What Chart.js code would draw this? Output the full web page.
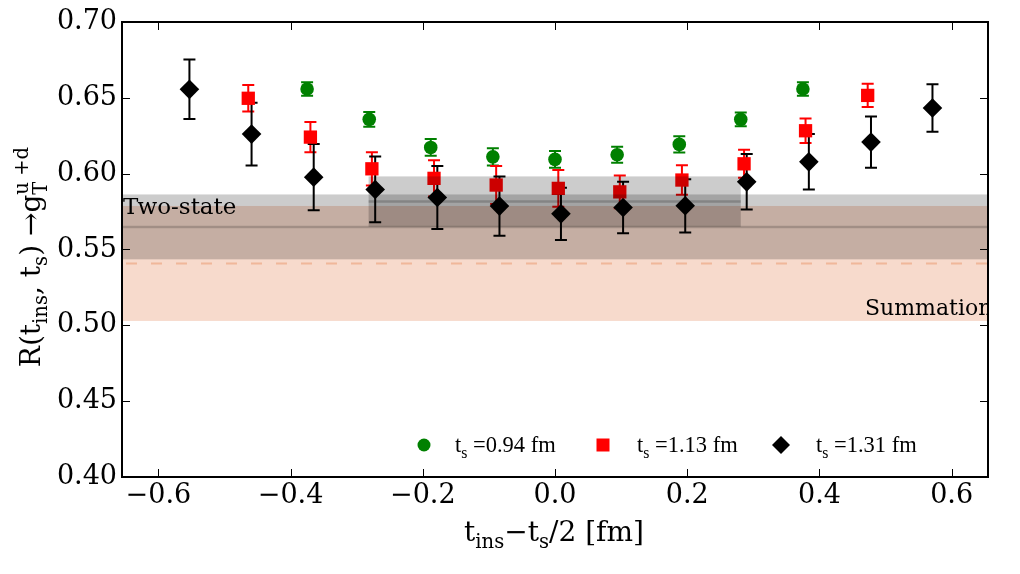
<!DOCTYPE html>
<html>
<head>
<meta charset="utf-8">
<script src="https://cdn.jsdelivr.net/npm/chart.js@4.4.0/dist/chart.umd.min.js"></script>
<style>
  html, body { margin: 0; padding: 0; background: #fff; }
  #wrap { width: 1020px; height: 574px; }
</style>
</head>
<body>
<div id="wrap"><canvas id="myChart" width="1020" height="574"></canvas></div>
<script>
// ratio R(t_ins, t_s) for three source-sink separations
const xTs094 = [-0.375, -0.281, -0.188, -0.094, 0.000, 0.094, 0.188, 0.281, 0.375];
const yTs094 = [0.6558, 0.6358, 0.6173, 0.6111, 0.6094, 0.6125, 0.6193, 0.6358, 0.6558];
const eTs094 = [0.0045, 0.0049, 0.0055, 0.0057, 0.0055, 0.0053, 0.0053, 0.0046, 0.0044];

const xTs113 = [-0.464, -0.370, -0.277, -0.183, -0.089, 0.005, 0.098, 0.192, 0.286, 0.379, 0.473];
const yTs113 = [0.6497, 0.6241, 0.6032, 0.5969, 0.5925, 0.5903, 0.5880, 0.5958, 0.6065, 0.6283, 0.6516];
const eTs113 = [0.0087, 0.0099, 0.0110, 0.0119, 0.0125, 0.0121, 0.0108, 0.0097, 0.0092, 0.0080, 0.0077];

const xTs131 = [-0.553, -0.459, -0.365, -0.272, -0.178, -0.084, 0.009, 0.103, 0.197, 0.290, 0.384, 0.478, 0.571];
const yTs131 = [0.6556, 0.6261, 0.5977, 0.5896, 0.5843, 0.5786, 0.5735, 0.5777, 0.5788, 0.5946, 0.6078, 0.6208, 0.6433];
const eTs131 = [0.0196, 0.0207, 0.0218, 0.0217, 0.0208, 0.0196, 0.0172, 0.0170, 0.0176, 0.0183, 0.0183, 0.0169, 0.0157];

// fit results: [value, error]
const twoState = [0.5649, 0.0214];
const summation = [0.5408, 0.0379];
const plateau = [0.5816, 0.0166];
const plateauRange = [-0.282, 0.281];

const xTicks = [-0.6, -0.4, -0.2, 0.0, 0.2, 0.4, 0.6];
const yTicks = [0.40, 0.45, 0.50, 0.55, 0.60, 0.65, 0.70];
const legendLabels = ['0.94', '1.13', '1.31'];

const SERIF = '"DejaVu Serif", serif';
const LSERIF = '"Liberation Serif", serif';
const errs = [eTs094, eTs113, eTs131];

function pts(xs, ys) {
    return xs.map((x, i) => ({ x: x, y: ys[i] }));
}

// draws text made of pieces: [text, kind] kind: '' normal, 'b' subscript, 'p' superscript, or {b, p} stacked
function richText(ctx, parts, x, y, size, measureOnly, family) {
    const fam = family || SERIF;
    let cx = x;
    parts.forEach(p => {
        if (typeof p[0] === 'object') {
            ctx.font = (size * 0.7) + 'px ' + fam;
            const wb = ctx.measureText(p[0].b).width;
            const wp = ctx.measureText(p[0].p).width;
            if (!measureOnly) {
                ctx.fillText(p[0].b, cx, y + size * 0.25);
                ctx.fillText(p[0].p, cx, y - size * 0.42);
            }
            cx += Math.max(wb, wp);
            return;
        }
        const k = p[1];
        const s = k ? size * 0.7 : size;
        ctx.font = s + 'px ' + fam;
        const dy = k === 'b' ? size * 0.25 : (k === 'p' ? -size * 0.42 : 0);
        if (!measureOnly) ctx.fillText(p[0], cx, y + dy);
        cx += ctx.measureText(p[0]).width;
    });
    return cx - x;
}

function clipArea(ctx, a) {
    ctx.beginPath();
    ctx.rect(a.left, a.top, a.right - a.left, a.bottom - a.top);
    ctx.clip();
}

const decor = {
    id: 'decor',
    beforeDatasetsDraw(chart) {
        const { ctx, chartArea: a } = chart;
        const xs = chart.scales.x, ys = chart.scales.y;
        ctx.save();
        clipArea(ctx, a);

        // summation band sits under the points
        const t = ys.getPixelForValue(summation[0] + summation[1]);
        const b = ys.getPixelForValue(summation[0] - summation[1]);
        ctx.fillStyle = 'rgba(233,150,110,0.35)';
        ctx.fillRect(a.left, t, a.right - a.left, b - t);
        ctx.strokeStyle = 'rgba(235,160,120,0.6)';
        ctx.lineWidth = 2;
        ctx.setLineDash([11, 14]);
        const ym = ys.getPixelForValue(summation[0]);
        ctx.beginPath(); ctx.moveTo(a.left + 4, ym); ctx.lineTo(a.right, ym); ctx.stroke();
        ctx.setLineDash([]);

        // error bars
        chart.data.datasets.forEach((ds, i) => {
            ctx.strokeStyle = ds.backgroundColor;
            ctx.lineWidth = 2;
            ds.data.forEach((d, j) => {
                const px = xs.getPixelForValue(d.x);
                const y1 = ys.getPixelForValue(d.y + errs[i][j]);
                const y2 = ys.getPixelForValue(d.y - errs[i][j]);
                ctx.beginPath();
                ctx.moveTo(px, y1); ctx.lineTo(px, y2);
                ctx.moveTo(px - 6, y1); ctx.lineTo(px + 6, y1);
                ctx.moveTo(px - 6, y2); ctx.lineTo(px + 6, y2);
                ctx.stroke();
            });
        });
        ctx.restore();
    },
    afterDatasetsDraw(chart) {
        const { ctx, chartArea: a } = chart;
        const xs = chart.scales.x, ys = chart.scales.y;
        ctx.save();
        clipArea(ctx, a);

        // two-state band
        let t = ys.getPixelForValue(twoState[0] + twoState[1]);
        let b = ys.getPixelForValue(twoState[0] - twoState[1]);
        ctx.fillStyle = 'rgba(0,0,0,0.2)';
        ctx.fillRect(a.left, t, a.right - a.left, b - t);
        const yt = ys.getPixelForValue(twoState[0]);
        ctx.strokeStyle = 'rgba(0,0,0,0.18)';
        ctx.lineWidth = 2.5;
        ctx.beginPath(); ctx.moveTo(a.left, yt); ctx.lineTo(a.right, yt); ctx.stroke();

        // plateau band
        const x1 = xs.getPixelForValue(plateauRange[0]);
        const x2 = xs.getPixelForValue(plateauRange[1]);
        t = ys.getPixelForValue(plateau[0] + plateau[1]);
        b = ys.getPixelForValue(plateau[0] - plateau[1]);
        ctx.fillStyle = 'rgba(0,0,0,0.2)';
        ctx.fillRect(x1, t, x2 - x1, b - t);
        const yp = ys.getPixelForValue(plateau[0]);
        ctx.strokeStyle = 'rgba(0,0,0,0.2)';
        ctx.lineWidth = 2.5;
        ctx.beginPath(); ctx.moveTo(x1, yp); ctx.lineTo(x2, yp); ctx.stroke();

        // band labels
        ctx.fillStyle = '#000';
        ctx.font = '23px ' + SERIF;
        ctx.textAlign = 'left';
        ctx.textBaseline = 'alphabetic';
        ctx.fillText('Two-state', a.left + 1, 214);
        ctx.font = '22px ' + SERIF;
        ctx.fillText('Summation', 865, 315);
        ctx.restore();
    },
    afterDraw(chart) {
        const { ctx, chartArea: a } = chart;
        const xs = chart.scales.x, ys = chart.scales.y;
        ctx.save();
        // spines
        ctx.strokeStyle = '#000';
        ctx.lineWidth = 2;
        ctx.strokeRect(a.left, a.top, a.right - a.left, a.bottom - a.top);
        // inward ticks
        ctx.lineWidth = 1;
        ctx.beginPath();
        xTicks.forEach(v => {
            const px = Math.round(xs.getPixelForValue(v)) + 0.5;
            ctx.moveTo(px, a.bottom); ctx.lineTo(px, a.bottom - 8);
            ctx.moveTo(px, a.top); ctx.lineTo(px, a.top + 8);
        });
        yTicks.forEach(v => {
            const py = Math.round(ys.getPixelForValue(v)) + 0.5;
            ctx.moveTo(a.left, py); ctx.lineTo(a.left + 8, py);
            ctx.moveTo(a.right, py); ctx.lineTo(a.right - 8, py);
        });
        ctx.stroke();

        // legend
        ctx.textAlign = 'left';
        ctx.textBaseline = 'alphabetic';
        const mk = [424, 603, 781];
        const tx = [455, 637, 816];
        const ly = 445;
        chart.data.datasets.forEach((ds, i) => {
            ctx.fillStyle = ds.backgroundColor;
            ctx.beginPath();
            if (i === 0) {
                ctx.arc(mk[i], ly, 6.5, 0, Math.PI * 2);
            } else if (i === 1) {
                ctx.rect(mk[i] - 6.5, ly - 6.5, 13, 13);
            } else {
                ctx.moveTo(mk[i], ly - 9); ctx.lineTo(mk[i] + 9, ly);
                ctx.lineTo(mk[i], ly + 9); ctx.lineTo(mk[i] - 9, ly);
                ctx.closePath();
            }
            ctx.fill();
            ctx.fillStyle = '#000';
            richText(ctx, [['t', ''], ['s', 'b'], [' =' + legendLabels[i] + ' fm', '']], tx[i], 452, 22.5, false, LSERIF);
        });

        // axis titles
        const xParts = [['t', ''], ['ins', 'b'], ['\u2212t', ''], ['s', 'b'], ['/2 [fm]', '']];
        const wx = richText(ctx, xParts, 0, 0, 28, true);
        richText(ctx, xParts, 554 - wx / 2, 541, 28);

        const yParts = [['R(t', ''], ['ins', 'b'], [', t', ''], ['s', 'b'], [') \u2192g', ''], [{ b: 'T', p: 'u +d' }, '']];
        const wy = richText(ctx, yParts, 0, 0, 28, true);
        ctx.translate(40, 257);
        ctx.rotate(-Math.PI / 2);
        richText(ctx, yParts, -wy / 2, 0, 28);
        ctx.restore();
    }
};

const ctx = document.getElementById('myChart').getContext('2d');

const myChart = new Chart(ctx, {
    type: 'scatter',
    data: {
        datasets: [
            { label: 't_s=0.94 fm', data: pts(xTs094, yTs094), backgroundColor: '#008000', borderColor: '#008000',
              pointStyle: 'circle', pointRadius: 6.8, borderWidth: 0 },
            { label: 't_s=1.13 fm', data: pts(xTs113, yTs113), backgroundColor: '#ff0000', borderColor: '#ff0000',
              pointStyle: 'rect', pointRadius: 9.4, borderWidth: 0 },
            { label: 't_s=1.31 fm', data: pts(xTs131, yTs131), backgroundColor: '#000000', borderColor: '#000000',
              pointStyle: 'rectRot', pointRadius: 9.8, borderWidth: 0 }
        ]
    },
    options: {
        responsive: false,
        animation: false,
        devicePixelRatio: 1,
        layout: { padding: { top: 22, right: 32, left: 0, bottom: 0 } },
        plugins: {
            legend: { display: false },
            tooltip: { enabled: false }
        },
        scales: {
            x: {
                type: 'linear',
                min: -0.655,
                max: 0.655,
                afterBuildTicks: s => { s.ticks = xTicks.map(v => ({ value: v })); },
                afterFit: s => { s.height = 97; },
                grid: { display: false, drawTicks: false },
                border: { display: false },
                ticks: {
                    padding: 3,
                    color: '#000',
                    font: { family: SERIF, size: 27 },
                    maxRotation: 0,
                    callback: v => (v < 0 ? '\u2212' : '') + Math.abs(v).toFixed(1)
                }
            },
            y: {
                type: 'linear',
                min: 0.40,
                max: 0.70,
                afterBuildTicks: s => { s.ticks = yTicks.map(v => ({ value: v })); },
                afterFit: s => { s.width = 122; },
                grid: { display: false, drawTicks: false },
                border: { display: false },
                ticks: {
                    padding: 5,
                    color: '#000',
                    font: { family: SERIF, size: 27 },
                    callback: v => v.toFixed(2)
                }
            }
        }
    },
    plugins: [decor]
});
</script>
</body>
</html>
